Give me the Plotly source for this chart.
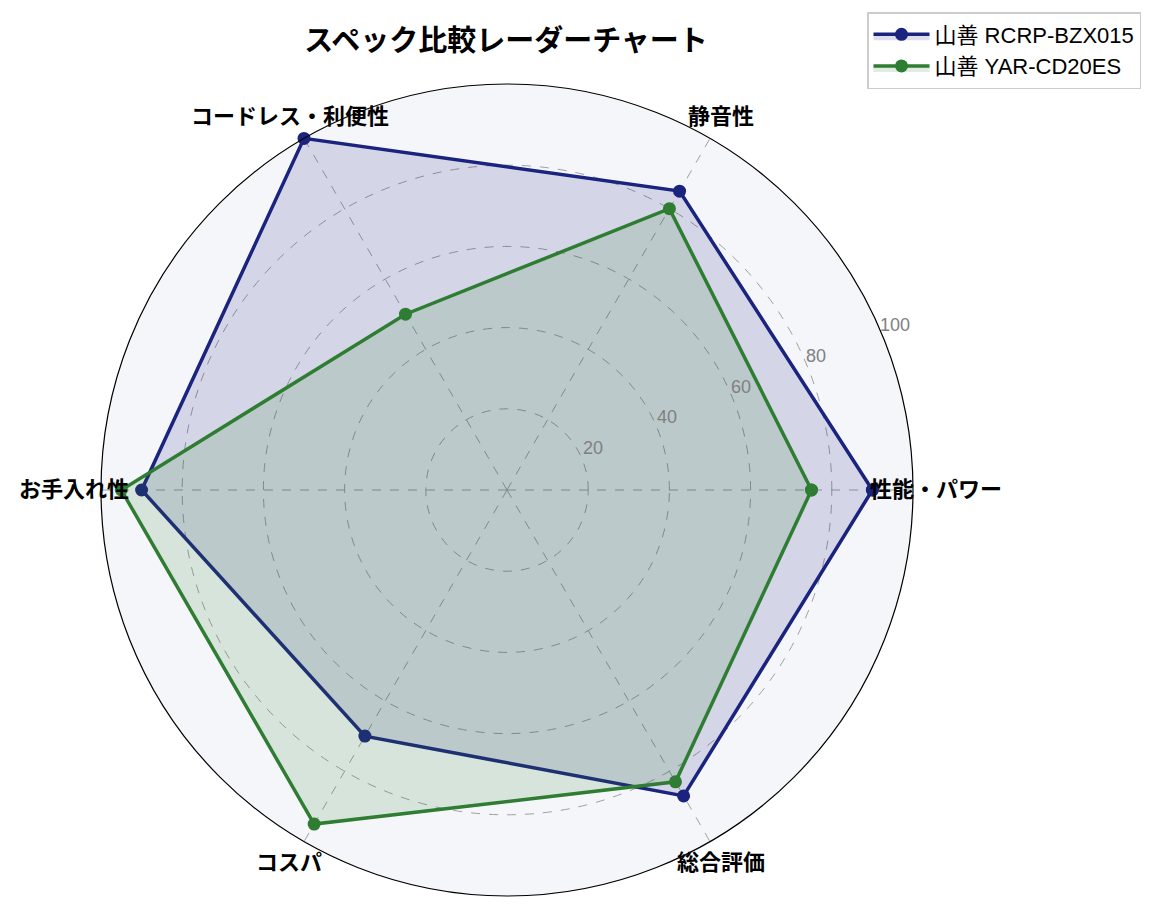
import math
import plotly.graph_objects as go

# データ
categories = ['性能・パワー', '静音性', 'コードレス・利便性', 'お手入れ性', 'コスパ', '総合評価']
series_names = ['山善 RCRP-BZX015', '山善 YAR-CD20ES']
values_bzx = [90, 85, 100, 90, 70, 87]
values_yar = [75, 80, 50, 95, 95, 83]
line_colors = ['#1a237e', '#2e7d32']
fill_colors = ['rgba(26,35,126,0.15)', 'rgba(46,125,50,0.15)']
radial_ticks = [20, 40, 60, 80, 100]

FONT = 'Noto Sans CJK JP'
LATIN = 'Liberation Sans, Noto Sans CJK JP'

# レイアウト（ピクセル）
W, H = 1156, 908
L, T, SIZE = 93, 76, 812
CX, CY = 506, 489      # レーダーの中心
RADIUS = 402           # 外周の半径
LABEL_PX = 431         # カテゴリラベルの中心までの距離
TICK_ANGLE = 22.5      # 目盛ラベルの角度


def to_paper(px, py):
    # ピクセル -> paper座標（annotationの描画ずれ補正込み）
    return (px - 9 - L) / SIZE, (T + SIZE - (py - 10)) / SIZE


fig = go.Figure()

for name, vals, lc, fc in zip(series_names, [values_bzx, values_yar], line_colors, fill_colors):
    # 閉じたポリゴンにする
    fig.add_trace(go.Scatterpolar(
        r=vals + vals[:1],
        theta=categories + categories[:1],
        name=name,
        mode='lines+markers',
        line=dict(color=lc, width=3.5),
        marker=dict(color=lc, size=13),
        fill='toself',
        fillcolor=fc,
    ))

annotations = []

# カテゴリラベル（matplotlib風に中央揃えで配置）
n = len(categories)
for i, cat in enumerate(categories):
    ang = 2 * math.pi * i / n
    x, y = to_paper(CX + LABEL_PX * math.cos(ang), CY - LABEL_PX * math.sin(ang))
    annotations.append(dict(
        text=f'<b>{cat}</b>', x=x, y=y, xref='paper', yref='paper',
        xanchor='center', yanchor='middle', showarrow=False,
        font=dict(size=22, color='black', family=FONT),
    ))

# 半径方向の目盛ラベル
ta = math.radians(TICK_ANGLE)
for v in radial_ticks:
    rp = v / 100 * RADIUS
    x, y = to_paper(CX + rp * math.cos(ta) + 1.5, CY - rp * math.sin(ta) - 8)
    annotations.append(dict(
        text=str(v), x=x, y=y, xref='paper', yref='paper',
        xanchor='left', yanchor='middle', showarrow=False,
        font=dict(size=18, color='#808080', family=LATIN),
    ))

fig.update_layout(
    width=W,
    height=H,
    paper_bgcolor='white',
    margin=dict(l=L, r=W - L - SIZE, t=T, b=H - T - SIZE, autoexpand=False),
    font=dict(family=FONT),
    title=dict(
        text='<b>スペック比較レーダーチャート</b>',
        font=dict(size=29, color='black', family=FONT),
        x=498 / W, xref='container', xanchor='center',
        y=1 - 33 / H, yref='container', yanchor='middle',
    ),
    annotations=annotations,
    polar=dict(
        bgcolor='#f5f6fa',
        angularaxis=dict(
            rotation=0,
            direction='counterclockwise',
            showline=True,
            linecolor='black',
            linewidth=1.2,
            gridcolor='#a0a0a0',
            griddash='dash',
            gridwidth=0.8,
            ticks='',
            ticklen=0,
            showticklabels=False,
        ),
        radialaxis=dict(
            range=[0, 100],
            tickvals=radial_ticks,
            angle=TICK_ANGLE,
            showticklabels=False,
            showline=False,
            ticks='',
            gridcolor='#a0a0a0',
            griddash='dash',
            gridwidth=0.8,
        ),
    ),
    legend=dict(
        xref='container', yref='container',
        x=1133 / W, xanchor='right',
        y=1 - 4 / H, yanchor='top',
        itemwidth=56,
        tracegroupgap=0,
        bgcolor='white',
        bordercolor='#cccccc',
        borderwidth=1.5,
        font=dict(size=22, color='black', family=LATIN),
    ),
)

fig.write_html('out.html')
